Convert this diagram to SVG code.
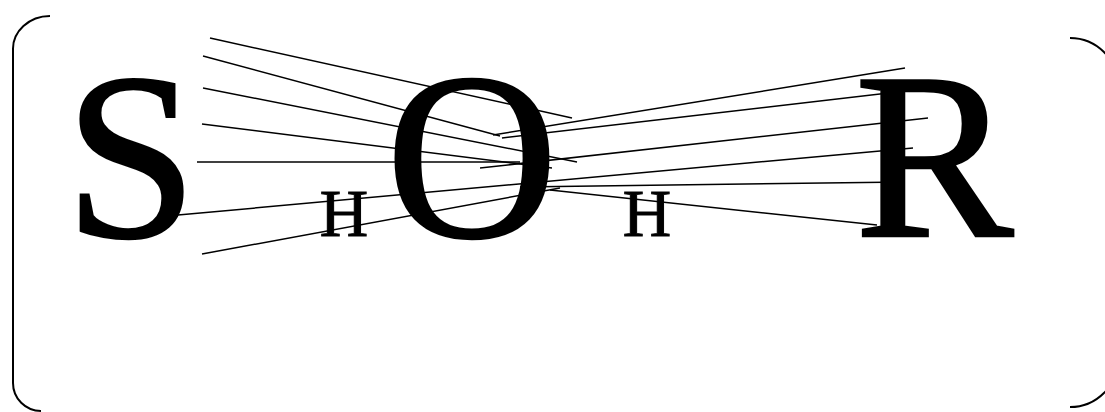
<svg xmlns="http://www.w3.org/2000/svg" width="1105" height="412" viewBox="0 0 1105 412">
<style>
.frame{fill:none;stroke:#000;stroke-width:2}
.edge{fill:none;stroke:#000;stroke-width:1.5}
.big{font-family:"Liberation Serif","Times New Roman",serif;font-size:238px;fill:#000;stroke:#000;stroke-width:2.5;text-anchor:middle}
.small{font-family:"Liberation Serif","Times New Roman",serif;font-size:67px;fill:#000;stroke:#000;stroke-width:1;text-anchor:middle}
</style>
<rect width="1105" height="412" fill="#fff"/>
<g id="frame">
<path class="frame" d="M50,16 A37,33 0 0 0 13,50 L13,383 A28,28 0 0 0 41,411"/>
<path class="frame" d="M1070,38 A48,48 0 0 1 1118,86 L1118,359 A48,48 0 0 1 1070,407"/>
</g>
<g id="connectors">
<line class="edge" x1="210" y1="38" x2="572" y2="118"/>
<line class="edge" x1="203" y1="56" x2="500" y2="136"/>
<line class="edge" x1="203" y1="88" x2="577" y2="162"/>
<line class="edge" x1="202" y1="124" x2="552" y2="168"/>
<line class="edge" x1="197" y1="162" x2="520" y2="162"/>
<line class="edge" x1="178" y1="215" x2="913" y2="148"/>
<line class="edge" x1="202" y1="254" x2="560" y2="188"/>
<line class="edge" x1="493" y1="135" x2="905" y2="68"/>
<line class="edge" x1="502" y1="138" x2="940" y2="87"/>
<line class="edge" x1="480" y1="168" x2="928" y2="118"/>
<line class="edge" x1="520" y1="187" x2="905" y2="182"/>
<line class="edge" x1="550" y1="190" x2="877" y2="225"/>
</g>
<g id="node-S"><text class="big" x="131" y="237">S</text></g>
<g id="node-H1"><text class="small" x="344" y="236">H</text></g>
<g id="node-O"><text class="big" x="472" y="237">O</text></g>
<g id="node-H2"><text class="small" x="647" y="236">H</text></g>
<g id="node-R"><text class="big" x="934" y="236">R</text></g>
</svg>
